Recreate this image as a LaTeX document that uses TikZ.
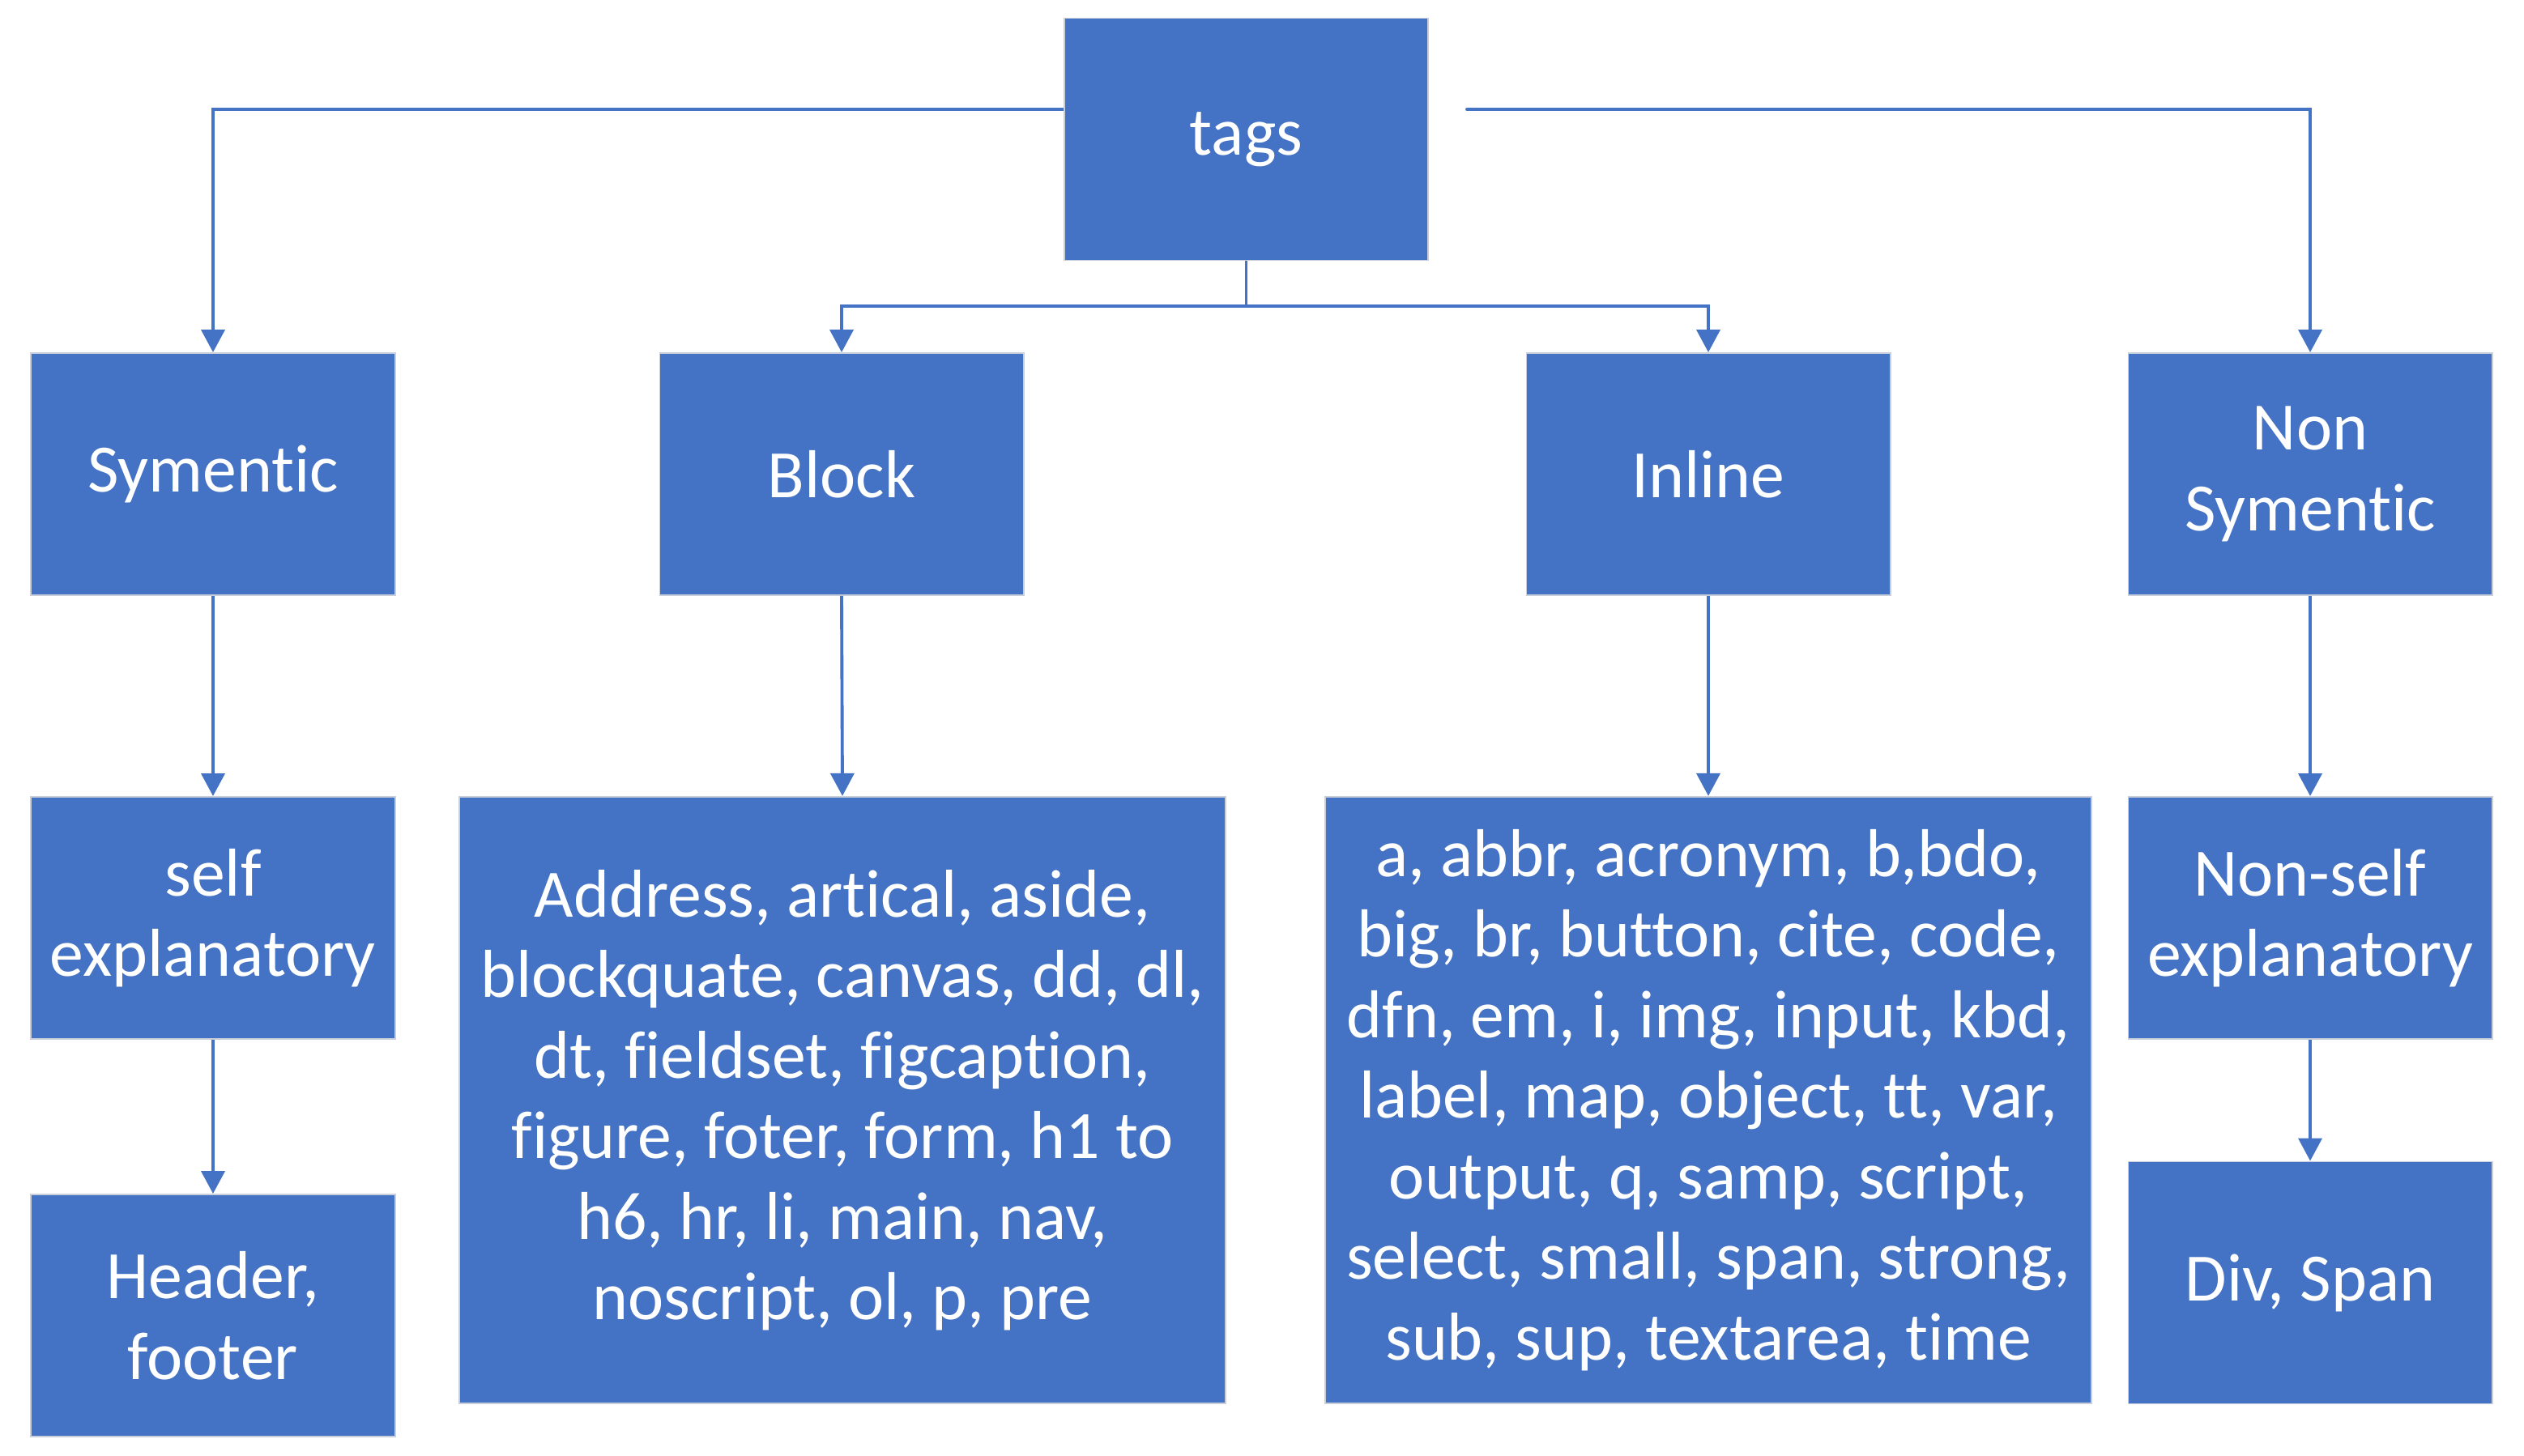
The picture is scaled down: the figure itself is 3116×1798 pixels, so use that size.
\documentclass[tikz,border=0pt]{standalone}
\usepackage{fontspec}
\setmainfont{Carlito}[Ligatures=NoCommon]
\usetikzlibrary{arrows.meta}
\definecolor{boxblue}{HTML}{4472C4}
\definecolor{boxedge}{HTML}{C9CFDA}
\begin{document}
\begin{tikzpicture}[x=0.01cm,y=-0.01cm,
  box/.style={rectangle, fill=boxblue, draw=boxedge, line width=0.5pt, text=white,
    align=center, inner sep=0pt, minimum width=4.49cm, minimum height=2.99cm,
    font=\fontsize{23.8pt}{28.3pt}\selectfont},
  listbox/.style={box, minimum width=9.45cm, minimum height=7.49cm},
  conn/.style={draw=boxblue, line width=1.1pt},
  arr/.style={conn, -{Triangle[length=0.28cm, width=0.29cm]}}]
\useasboundingbox (0,0) rectangle (3116,1798);
\fill[white] (0,0) rectangle (3116,1798);
% nodes
\node[box] (tags) at (1538.5,172) {tags};
\node[box] (sym) at (263,585.5) {Symentic};
\node[box] (block) at (1039,585.5) {Block};
\node[box] (inline) at (2109,585.5) {Inline};
\node[box] (nonsym) at (2852,585.5) {Non\\Symentic};
\node[box] (self) at (263,1133.5) {self\\explanatory};
\node[box] (header) at (263,1624.5) {Header,\\footer};
\node[listbox] (blocklist) at (1040,1358.5) {Address, artical, aside,\\blockquate, canvas, dd, dl,\\dt, fieldset, figcaption,\\figure, foter, form, h1 to\\h6, hr, li, main, nav,\\noscript, ol, p, pre};
\node[listbox] (inlinelist) at (2109,1358.5) {a, abbr, acronym, b,bdo,\\big, br, button, cite, code,\\dfn, em, i, img, input, kbd,\\label, map, object, tt, var,\\output, q, samp, script,\\select, small, span, strong,\\sub, sup, textarea, time};
\node[box] (nonself) at (2852,1133.5) {Non-self\\explanatory};
\node[box] (div) at (2852,1584) {Div, Span};
% helper coordinates
\coordinate (topline) at (0,135);
\coordinate (rstart) at (1811,135);
\coordinate (midline) at (0,378);
% connectors from tags
\draw[arr] (tags.west |- topline) -| (sym.north);
\draw[arr, line cap=round] (rstart) -| (nonsym.north);
\draw[conn] (tags.south) -- (tags.south |- midline);
\draw[arr] (tags.south |- midline) -| (block.north);
\draw[arr] (tags.south |- midline) -| (inline.north);
% vertical connectors
\draw[arr] (sym.south) -- (self.north);
\draw[arr] (self.south) -- (header.north);
\draw[arr] (block.south) -- (blocklist.north);
\draw[arr] (inline.south) -- (inlinelist.north);
\draw[arr] (nonsym.south) -- (nonself.north);
\draw[arr] (nonself.south) -- (div.north);
\end{tikzpicture}
\end{document}
